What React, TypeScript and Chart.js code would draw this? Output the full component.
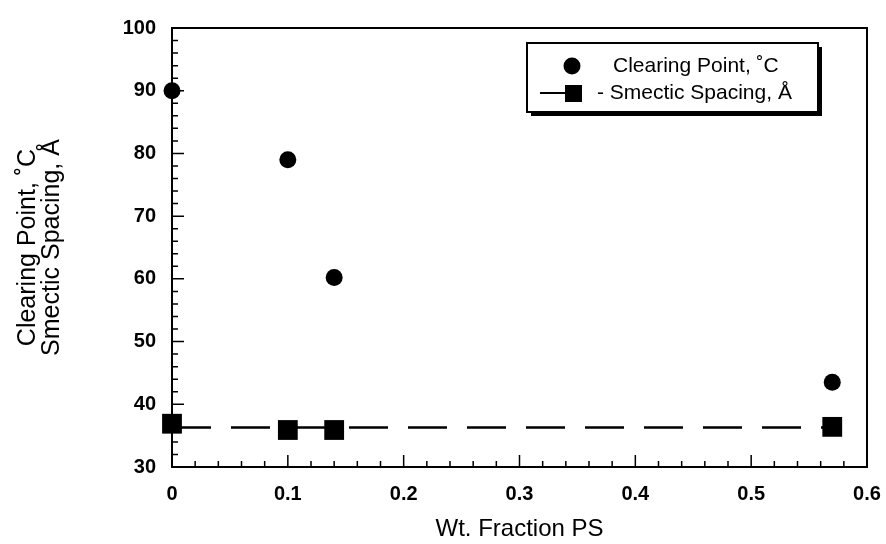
import React, { useEffect, useRef } from "react";
import { Chart, registerables } from "chart.js";
Chart.register(...registerables);

const clearingX = [0, 0.1, 0.14, 0.57];
const clearingY = [90, 79, 60.2, 43.5];
const spacingX = [0, 0.1, 0.14, 0.57];
const spacingY = [36.9, 35.9, 35.9, 36.4];
const fitX = [0, 0.57];
const fitY = [36.3, 36.3];
const xTicks = [0, 0.1, 0.2, 0.3, 0.4, 0.5, 0.6];
const yTicks = [30, 40, 50, 60, 70, 80, 90, 100];
const legendLabels = ["Clearing Point, ˚C", "- Smectic Spacing, Å"];
const xTitle = "Wt. Fraction PS";
const yTitle = ["Clearing Point, ˚C", "Smectic Spacing, Å"];

const FONT = "'Liberation Sans', Arial, sans-serif";

const framePlugin = {
  id: "frame",
  beforeDatasetsDraw(chart: any) {
    const { ctx, chartArea: a, scales } = chart;
    const xs = scales.x, ys = scales.y;
    ctx.save();
    ctx.strokeStyle = "#000";
    ctx.lineWidth = 2;
    ctx.strokeRect(a.left, a.top, a.right - a.left, a.bottom - a.top);
    ctx.lineWidth = 1.5;
    ctx.beginPath();
    for (let v = 0; v <= 0.6001; v += 0.02) {
      const major = Math.abs(v * 10 - Math.round(v * 10)) < 1e-6;
      const px = xs.getPixelForValue(v);
      ctx.moveTo(px, a.bottom);
      ctx.lineTo(px, a.bottom - (major ? 12 : 6));
    }
    for (let v = 30; v <= 100; v += 2) {
      const major = v % 10 === 0;
      const py = ys.getPixelForValue(v);
      ctx.moveTo(a.left, py);
      ctx.lineTo(a.left + (major ? 12 : 6), py);
    }
    ctx.stroke();
    ctx.restore();
  },
  afterDraw(chart: any) {
    const { ctx } = chart;
    ctx.save();
    // legend box with shadow
    const L = 527, T = 43, R = 818, B = 112;
    ctx.fillStyle = "#000";
    ctx.fillRect(L + 4, T + 4, R - L, B - T);
    ctx.fillStyle = "#fff";
    ctx.fillRect(L, T, R - L, B - T);
    ctx.strokeStyle = "#000";
    ctx.lineWidth = 2;
    ctx.strokeRect(L, T, R - L, B - T);
    // circle
    ctx.fillStyle = "#000";
    ctx.beginPath();
    ctx.arc(572, 66, 8.5, 0, Math.PI * 2);
    ctx.fill();
    // line + square
    ctx.lineWidth = 2;
    ctx.beginPath();
    ctx.moveTo(540, 93);
    ctx.lineTo(568, 93);
    ctx.stroke();
    ctx.fillRect(565, 85, 17, 17);
    ctx.font = `21px ${FONT}`;
    ctx.textBaseline = "middle";
    ctx.textAlign = "left";
    ctx.fillText(legendLabels[0], 613, 66);
    ctx.fillText(legendLabels[1], 597, 93);
    ctx.restore();
  },
};

export default function App() {
  const ref = useRef<HTMLCanvasElement>(null);
  useEffect(() => {
    const chart = new Chart(ref.current!, {
      type: "scatter",
      data: {
        datasets: [
          {
            label: "fit",
            type: "line",
            data: fitX.map((x, i) => ({ x, y: fitY[i] })),
            borderColor: "#000",
            borderWidth: 2.5,
            borderDash: [39, 20],
            pointRadius: 0,
            clip: false,
          } as any,
          {
            label: legendLabels[1],
            data: spacingX.map((x, i) => ({ x, y: spacingY[i] })),
            pointStyle: "rect",
            pointRadius: 14,
            backgroundColor: "#000",
            borderColor: "#000",
            borderWidth: 0,
            clip: false,
          } as any,
          {
            label: legendLabels[0],
            data: clearingX.map((x, i) => ({ x, y: clearingY[i] })),
            pointStyle: "circle",
            pointRadius: 8.5,
            backgroundColor: "#000",
            borderColor: "#000",
            borderWidth: 0,
            clip: false,
          } as any,
        ],
      },
      options: {
        animation: false,
        responsive: false,
        layout: { padding: { top: 21, right: 19, left: 0, bottom: 0 } },
        plugins: { legend: { display: false }, tooltip: { enabled: false } },
        scales: {
          x: {
            type: "linear",
            min: 0,
            max: 0.6,
            afterBuildTicks: (s: any) => {
              s.ticks = xTicks.map((v) => ({ value: v }));
            },
            afterFit: (s: any) => {
              s.height = 77;
              s.paddingLeft = 0;
              s.paddingRight = 0;
            },
            ticks: {
              padding: 15,
              color: "#000",
              font: { family: FONT, size: 20, weight: "bold" },
              callback: (v: any) => String(Math.round(v * 10) / 10),
            },
            grid: { display: false, drawTicks: false },
            border: { display: false },
            title: {
              display: true,
              text: xTitle,
              color: "#000",
              font: { family: FONT, size: 24 },
              padding: { top: 9, bottom: 0 },
            },
          },
          y: {
            type: "linear",
            min: 30,
            max: 100,
            afterBuildTicks: (s: any) => {
              s.ticks = yTicks.map((v) => ({ value: v }));
            },
            afterFit: (s: any) => {
              s.width = 172;
            },
            ticks: {
              padding: 16,
              color: "#000",
              font: { family: FONT, size: 20, weight: "bold" },
            },
            grid: { display: false, drawTicks: false },
            border: { display: false },
            title: {
              display: true,
              text: yTitle,
              color: "#000",
              font: { family: FONT, size: 25, lineHeight: 0.95 },
              padding: { top: 16, bottom: 0 },
            },
          },
        },
      },
      plugins: [framePlugin],
    });
    return () => chart.destroy();
  }, []);
  return (
    <div style={{ position: "absolute", left: 0, top: 0, width: 886, height: 544, background: "#fff" }}>
      <canvas ref={ref} width={886} height={544} />
    </div>
  );
}
